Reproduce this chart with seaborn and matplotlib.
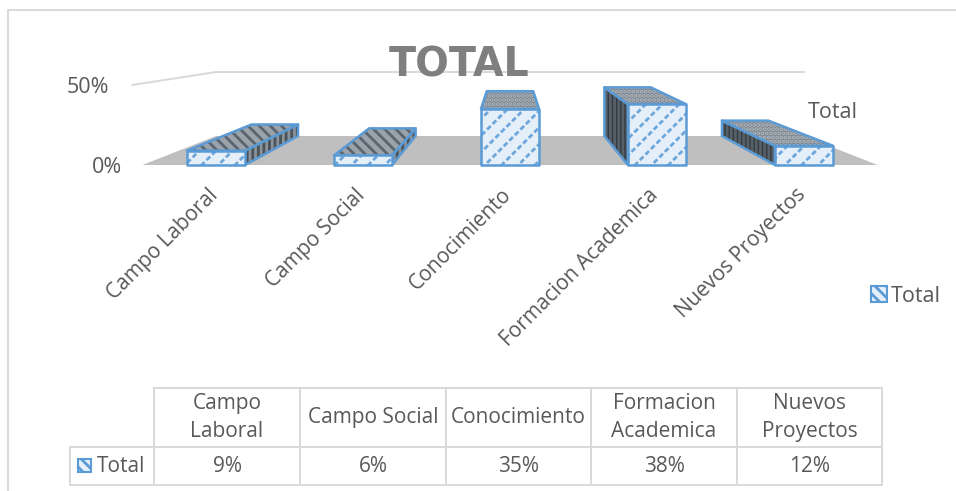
import matplotlib
matplotlib.use("Agg")
import matplotlib.pyplot as plt
from matplotlib.patches import Polygon, Rectangle
from matplotlib.transforms import ScaledTranslation
import pandas as pd
import seaborn as sns

# ---- data -------------------------------------------------------------
categories = ["Campo Laboral", "Campo Social", "Conocimiento",
              "Formacion Academica", "Nuevos Proyectos"]
table_headers = ["Campo\nLaboral", "Campo Social", "Conocimiento",
                 "Formacion\nAcademica", "Nuevos\nProyectos"]
values = [9, 6, 35, 38, 12]
series_name = "Total"
y_ticks = [0, 50]
title = "TOTAL"

# ---- style ------------------------------------------------------------
W, H, DPI = 956, 491, 100
TXT = "#595959"
BLUE = "#5B9BD5"
FACE = "#E4EFFA"
FONT = "Open Sans"
sns.set_theme(style="white")
plt.rcParams["font.family"] = [FONT, "DejaVu Sans"]
plt.rcParams["hatch.linewidth"] = 2.0

fig = plt.figure(figsize=(W / DPI, H / DPI), dpi=DPI)

# full-figure overlay for the chart frame and the data table (pixel units)
ov = fig.add_axes([0, 0, 1, 1], zorder=0)
ov.set_xlim(0, W)
ov.set_ylim(H, 0)
ov.axis("off")
for xs, ys in [((8, 956), (10, 10)), ((8, 8), (10, 491))]:
    ov.plot(xs, ys, color="#D9D9D9", lw=1.4)

# main axes: x = category index, y = percent
ax = fig.add_axes([142.5 / W, 1 - 165 / H, 735 / W, 80 / H], zorder=1)
ax.patch.set_alpha(0)
df = pd.DataFrame({"cat": categories, "val": values, "serie": series_name})
sns.barplot(data=df, x="cat", y="val", hue="serie", palette=[FACE], width=0.395,
            ax=ax, legend=True, saturation=1, zorder=6)
ax.set_xlim(-0.5, 4.5)
ax.set_ylim(0, 50)
ax.set_xlabel("")
ax.set_ylabel("")
sns.despine(ax=ax, left=True, bottom=True, top=True, right=True)

# perspective: the back plane is 0.8 of the front plane about a vanishing point
VX, VY, K = 2.0, 90.6, 0.8


def back(x, y):
    return (VX + (x - VX) * K, VY + (y - VY) * K)


def face(points, fc, hatch_color, hatch, z, edge=True):
    ax.add_patch(Polygon(points, closed=True, facecolor=fc, edgecolor=hatch_color,
                         hatch=hatch, lw=0, zorder=z, clip_on=False))
    if edge:
        ax.add_patch(Polygon(points, closed=True, fill=False, edgecolor=BLUE,
                             lw=1.8, joinstyle="round", zorder=z + 0.5, clip_on=False))


# floor and back wall
x_l, x_r = ax.get_xlim()
ax.add_patch(Polygon([(x_l, 0), (x_r, 0), back(x_r, 0), back(x_l, 0)], closed=True,
                     facecolor="#BFBFBF", edgecolor="none", zorder=1, clip_on=False))
wall = [(x_l - 0.07, y_ticks[1]), back(x_l, y_ticks[1]), back(x_r, y_ticks[1])]
ax.plot(*zip(*wall), color="#D9D9D9", lw=1.4, zorder=2, clip_on=False)

# 3-D faces, computed from the seaborn bars
bars = list(ax.containers[0])
for bar in bars:
    x0, x1 = bar.get_x(), bar.get_x() + bar.get_width()
    v = bar.get_height()
    z = 3
    if x1 < VX:
        side = [(x1, 0), (x1, v), back(x1, v), back(x1, 0)]
        face(side, "#8A929A", "#4A525A", "|||", z)
    elif x0 > VX:
        side = [(x0, 0), (x0, v), back(x0, v), back(x0, 0)]
        face(side, "#343B42", "#566069", "||||", z)
    top = [(x0, v), (x1, v), back(x1, v), back(x0, v)]
    if x1 < VX:
        face(top, "#9AA2AA", "#5B6570", "\\\\\\", z + 1)
    else:
        face(top, "#7E8790", "#AEB6BE", "....", z + 1)
    # front face: blue diagonals broken into dashes by a crossing hatch
    bar.set_hatch("//")
    bar.set_edgecolor("#6FA6DA")
    bar.set_linewidth(0)
    bar.set_zorder(6)
    corners = [(x0, 0), (x1, 0), (x1, v), (x0, v)]
    face(corners, "none", FACE, "\\\\\\", 7)

# axis labels
ax.set_yticks(y_ticks)
ax.set_yticklabels([f"{t}%" for t in y_ticks], fontsize=15.5, color=TXT)
ax.tick_params(axis="y", length=0)
for tick, pad in zip(ax.yaxis.get_major_ticks(), [15, 24]):
    tick.set_pad(pad)
ax.set_xticks(range(len(categories)))
ax.set_xticklabels(categories, rotation=45, ha="right", rotation_mode="anchor",
                   fontsize=15, color=TXT)
ax.tick_params(axis="x", length=0, pad=14)
shift = ScaledTranslation(-9 / DPI, 0, fig.dpi_scale_trans)
for lab in ax.get_xticklabels():
    lab.set_transform(lab.get_transform() + shift)

# depth-axis label and title
ax.text(833, 112, series_name, transform=ov.transData, ha="center", va="center",
        fontsize=15.5, color=TXT, zorder=8)
ov.set_zorder(2)
ov.text(459, 65, title, ha="center", va="center", fontsize=28.5, fontweight="bold",
        family="DejaVu Sans", color="#7F7F7F")

# legend
sns.move_legend(ax, loc="center left", bbox_to_anchor=(871 / W, 1 - 296 / H),
                bbox_transform=fig.transFigure, frameon=False, title=None,
                fontsize=15.5, handlelength=0.75, handleheight=0.75, handletextpad=0.15,
                labelcolor=TXT, borderpad=0, borderaxespad=0)
leg = ax.get_legend()
for h in leg.get_patches():
    h.set_facecolor(FACE)
    h.set_edgecolor(BLUE)
    h.set_hatch("\\\\\\")
    h.set_linewidth(1.5)

# data table
col_x = [70, 154, 300, 446, 591, 737, 882]
row_y = [388, 447, 485]
widths = [(b - a) / W for a, b in zip(col_x, col_x[1:])]
tbl = ov.table(
    cellText=[[""] + table_headers, [series_name] + [f"{v}%" for v in values]],
    cellLoc="center", colWidths=widths,
    bbox=[col_x[0] / W, 1 - row_y[-1] / H, (col_x[-1] - col_x[0]) / W, (row_y[-1] - row_y[0]) / H],
)
tbl.auto_set_font_size(False)
tbl.set_fontsize(15)
for (r, c), cell in tbl.get_celld().items():
    cell.set_height((row_y[r + 1] - row_y[r]) / H)
    cell.set_edgecolor("#D9D9D9")
    cell.set_linewidth(1.4)
    cell.set_facecolor("white")
    cell.get_text().set_color(TXT)
    cell.get_text().set_linespacing(1.45)
    if (r, c) == (0, 0):
        cell.visible_edges = "BR"
tbl[(1, 0)].get_text().set_horizontalalignment("right")
ov.add_patch(Rectangle((78, 459), 13, 13, facecolor=FACE, edgecolor=BLUE, lw=1.5,
                       hatch="\\\\\\", zorder=10))

fig.savefig("out.png", dpi=DPI)
